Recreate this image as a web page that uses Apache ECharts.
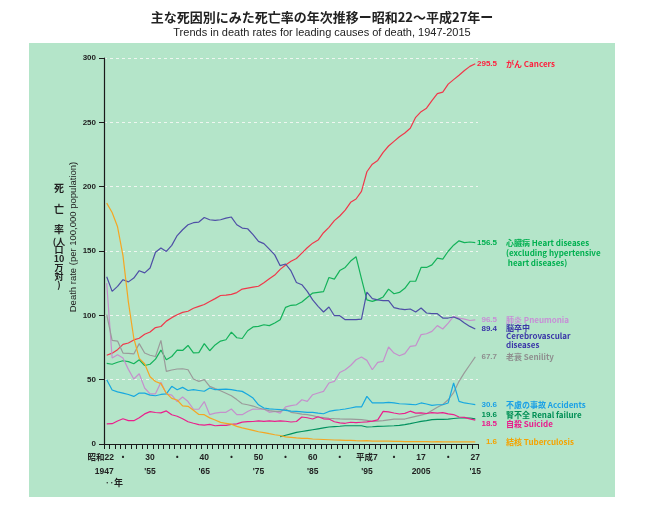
<!DOCTYPE html>
<html>
<head>
<meta charset="utf-8">
<script src="https://cdn.jsdelivr.net/npm/echarts@6/dist/echarts.min.js"></script>
<style>
html,body{margin:0;padding:0;background:#fff;}
#c{width:648px;height:507px;}
</style>
</head>
<body>
<div id="c"></div>
<script>
// ---- data ----
var years = [];
for (var y = 1947; y <= 2015; y++) years.push(String(y));

var cancer = [69.0,70.6,73.3,77.4,78.5,80.9,82.2,85.3,87.1,90.5,
  91.3,95.5,98.2,100.4,102.3,103.2,105.5,107.0,108.4,110.8,
  113.0,115.4,115.7,116.3,117.7,120.4,121.2,121.9,122.6,125.3,
  128.4,131.3,135.7,139.1,142.0,144.2,148.3,152.5,156.1,158.5,
  164.2,168.4,173.6,177.2,181.7,187.8,190.4,196.4,211.6,217.5,
  220.4,226.7,231.6,235.2,238.8,241.7,245.4,253.9,258.3,261.0,
  266.9,272.3,273.5,279.7,283.2,286.6,290.3,293.5,295.5];

var heart = [62.6,62.0,63.5,64.7,64.0,62.4,65.5,61.0,62.0,66.0,
  73.0,65.5,68.0,73.0,72.7,76.6,70.9,71.0,78.0,72.5,
  77.0,80.0,81.0,87.0,82.6,82.0,88.0,91.0,91.4,92.7,
  92.0,94.0,96.6,106.2,107.8,108.2,110.4,113.9,117.3,117.9,
  118.4,129.4,128.1,134.8,137.2,142.2,145.6,128.6,112.0,110.8,
  112.2,114.3,120.4,116.8,117.8,121.0,126.5,126.5,137.2,137.2,
  139.2,144.4,143.7,149.8,154.5,157.9,156.5,157.0,156.5];

var pneumonia = [125.0,66.8,69.4,66.8,58.0,50.5,54.6,43.5,39.0,39.0,
  47.9,39.0,38.0,33.0,36.5,33.0,27.0,27.0,33.0,22.8,
  24.0,24.6,24.6,27.2,22.8,22.8,25.3,27.2,27.0,27.2,
  24.6,25.3,24.0,28.8,29.8,30.5,34.4,33.1,38.3,39.6,
  40.9,47.4,48.7,55.6,57.7,61.0,65.5,67.6,65.0,57.7,
  63.4,64.2,75.4,70.7,68.6,70.2,75.9,76.4,85.0,85.7,
  87.5,92.0,89.4,94.0,99.2,97.9,97.0,96.0,96.5];

var cerebro = [130.0,118.6,122.5,127.7,126.0,129.0,134.7,133.0,136.8,149.0,
  152.3,149.7,154.4,162.0,166.5,170.4,172.0,172.5,176.0,174.3,
  173.8,174.3,175.5,176.4,170.4,167.8,167.3,162.7,157.5,155.7,
  151.5,147.0,138.6,139.9,134.5,125.5,123.8,118.6,112.0,107.0,
  102.6,106.5,99.7,99.7,96.6,96.6,96.6,97.0,118.0,113.0,
  112.0,111.4,111.4,106.0,105.0,104.4,104.9,102.6,105.7,101.8,
  101.3,101.3,97.9,97.9,98.7,97.1,94.0,91.4,89.4];

var senility = [100.5,80.5,80.0,70.7,70.5,70.0,78.0,70.7,69.0,68.0,
  80.5,56.4,57.5,58.3,58.5,57.7,50.5,48.7,50.0,44.8,
  43.0,41.4,39.5,37.5,34.5,31.3,30.5,29.5,28.0,27.0,
  26.0,25.3,25.3,27.2,24.6,24.0,23.2,22.8,22.0,21.0,
  20.5,20.0,19.7,19.5,19.4,19.3,19.1,18.9,18.3,17.6,
  17.8,18.1,18.8,19.4,19.4,19.4,20.5,21.5,22.5,23.5,
  26.1,28.6,30.7,34.4,40.0,48.7,55.5,61.6,67.7];

var accidents = [50.0,42.0,40.5,39.6,38.5,37.0,39.6,39.5,38.0,37.5,
  38.5,39.0,44.8,42.2,44.0,41.6,42.2,41.6,41.0,43.5,
  42.2,42.5,42.7,42.2,41.5,40.9,38.5,35.7,30.5,28.0,
  27.3,27.0,26.7,26.1,25.5,25.3,25.0,24.6,24.6,24.0,
  23.5,25.3,26.1,26.6,27.2,28.0,28.8,28.8,37.0,31.9,
  31.9,32.0,32.3,31.9,31.3,31.1,30.8,30.5,31.9,31.1,
  30.0,30.5,30.5,31.9,47.4,33.1,31.9,31.3,30.6];

var renal = [null,null,null,null,null,null,null,null,null,null,
  null,null,null,null,null,null,null,null,null,null,
  null,null,null,null,null,null,null,null,null,null,
  null,null,5.6,6.8,7.9,9.0,9.7,10.4,11.1,11.8,
  12.5,13.2,13.5,13.8,14.2,14.2,14.2,14.2,13.2,13.4,
  13.7,13.8,14.0,14.2,14.5,15.0,15.8,16.7,17.6,18.2,
  18.9,19.1,19.2,19.4,19.8,20.2,20.2,20.2,19.6];

var suicide = [15.7,15.8,17.9,19.6,18.2,18.1,20.4,23.4,25.2,24.5,
  24.2,25.7,22.7,21.6,19.6,17.3,16.1,15.1,14.7,15.2,
  14.2,14.5,14.5,15.3,15.6,17.0,17.4,17.5,18.0,17.6,
  17.9,17.6,18.0,17.7,17.1,17.5,21.0,20.4,19.4,21.2,
  19.6,19.4,17.3,16.4,16.1,16.9,16.6,16.9,17.2,17.8,
  18.8,25.4,25.0,24.1,23.3,23.8,25.5,24.0,24.2,23.7,
  24.4,24.0,24.4,23.4,22.9,21.0,20.7,19.5,18.5];

var tuberculosis = [187.2,179.9,168.8,146.4,110.3,82.2,66.5,62.4,52.3,48.6,
  46.9,39.5,35.5,34.2,29.6,29.3,26.3,23.0,22.8,20.3,
  18.6,16.8,16.1,15.4,13.7,12.5,11.6,10.6,9.5,8.9,
  8.0,7.2,6.6,5.5,5.2,4.7,4.4,4.3,3.9,3.7,
  3.5,3.3,3.1,3.0,2.8,2.8,2.6,2.5,2.6,2.3,
  2.2,2.2,2.3,2.1,2.0,1.8,1.9,1.8,1.8,1.8,
  1.7,1.8,1.7,1.7,1.7,1.7,1.6,1.7,1.6];

// tick labels
var labelYears = ['1947','1955','1965','1975','1985','1995','2005','2015'];
var eraLabels  = ['昭和22','30','40','50','60','平成7','17','27'];
var adLabels   = ['1947',"'55","'65","'75","'85","'95",'2005',"'15"];
var dotYears   = ['1950','1960','1970','1980','1990','2000','2010'];
var yTicks = [0, 50, 100, 150, 200, 250, 300];

// ---- chart ----
var FONT = '"Liberation Sans", Arial, "Noto Sans CJK JP", sans-serif';
var JFONT = '"Noto Sans CJK JP", "Liberation Sans", sans-serif';

var seriesDefs = [
  {name:'がん Cancers', data:cancer, color:'#f0384a', label:'#ff1f3d', ly:63.5, text:'がん Cancers'},
  {name:'心臓病', data:heart, color:'#14b25a', label:'#00b050', ly:242.5, text:'心臓病 Heart diseases\n(excluding hypertensive\n heart diseases)'},
  {name:'肺炎', data:pneumonia, color:'#c590cc', label:'#c78fd6', ly:319.5, text:'肺炎 Pneumonia'},
  {name:'脳卒中', data:cerebro, color:'#4e4fa6', label:'#3b36a8', ly:328.5, text:'脳卒中\nCerebrovascular\ndiseases'},
  {name:'老衰', data:senility, color:'#9a9a9a', label:'#8e8e8e', ly:356.5, text:'老衰 Senility'},
  {name:'不慮の事故', data:accidents, color:'#17a8df', label:'#1aa0e6', ly:404.5, text:'不慮の事故 Accidents'},
  {name:'腎不全', data:renal, color:'#00915e', label:'#008f55', ly:415, text:'腎不全 Renal failure'},
  {name:'自殺', data:suicide, color:'#ea1f8c', label:'#ea1a8c', ly:423.5, text:'自殺 Suicide'},
  {name:'結核', data:tuberculosis, color:'#f5a623', label:'#f5a300', ly:441.5, text:'結核 Tuberculosis'}
];

var graphics = [
  {type:'rect', z:-10, shape:{x:29, y:43, width:586, height:454}, style:{fill:'#b4e5c9'}},
  {type:'text', x:322, y:17, style:{text:'主な死因別にみた死亡率の年次推移ー昭和22～平成27年ー', font:'bold 13px ' + JFONT, fill:'#222', align:'center', verticalAlign:'middle', textAlign:'center', textVerticalAlign:'middle'}},
  {type:'text', x:322, y:33, style:{text:'Trends in death rates for leading causes of death, 1947-2015', font:'11px ' + FONT, fill:'#222', align:'center', verticalAlign:'middle', textAlign:'center', textVerticalAlign:'middle'}},
  {type:'text', x:59, y:178, style:{text:'死\n亡\n率', font:'bold 10px ' + JFONT, lineHeight:20.5, fill:'#222', align:'center', verticalAlign:'top', textAlign:'center', textVerticalAlign:'top'}},
  {type:'text', x:59, y:237, style:{text:'(人\n口\n10\n万\n対\n)', font:'bold 9px ' + JFONT, lineHeight:8.7, fill:'#222', align:'center', verticalAlign:'top', textAlign:'center', textVerticalAlign:'top'}},
  {type:'text', x:73, y:237, rotation:Math.PI/2, style:{text:'Death rate (per 100,000 population)', font:'9.5px ' + FONT, fill:'#222', align:'center', verticalAlign:'middle', textAlign:'center', textVerticalAlign:'middle'}},
  {type:'text', x:114, y:483, style:{text:'‥年', font:'bold 9px ' + JFONT, fill:'#222', align:'center', verticalAlign:'middle', textAlign:'center', textVerticalAlign:'middle'}}
];

seriesDefs.forEach(function(s){
  var last = s.data[s.data.length - 1];
  graphics.push({type:'text', x:497, y:s.ly, style:{text:last.toFixed(1), font:'bold 8px ' + FONT, fill:s.label, align:'right', verticalAlign:'middle', textAlign:'right', textVerticalAlign:'middle'}});
  var multi = s.text.indexOf('\n') >= 0;
  graphics.push({type:'text', x:506, y: multi ? s.ly - 5 : s.ly, style:{text:s.text, font:'bold 8px ' + JFONT, lineHeight: (s.name === '脳卒中' ? 8.5 : 10), fill:s.label, align:'left', verticalAlign: multi ? 'top' : 'middle', textAlign:'left', textVerticalAlign: multi ? 'top' : 'middle'}});
});

var chart = echarts.init(document.getElementById('c'), null, {renderer:'canvas'});
chart.setOption({
  animation:false,
  backgroundColor:'#ffffff',
  grid:{left:104, right:170, top:58, bottom:63, containLabel:false},
  xAxis:{
    type:'category', data:years, boundaryGap:true,
    axisLine:{lineStyle:{color:'#1a1a1a', width:1.2}},
    axisTick:{show:true, interval:0, length:5, lineStyle:{color:'#1a1a1a', width:1}},
    axisLabel:{
      interval:0, margin:7,
      formatter:function(v){
        var i = labelYears.indexOf(v);
        if (i === 0) return '{a0|' + eraLabels[i] + '}\n{b0|' + adLabels[i] + '}';
        if (i > 0) return '{a|' + eraLabels[i] + '}\n{b|' + adLabels[i] + '}';
        if (dotYears.indexOf(v) >= 0) return '{a|・}\n{b| }';
        return '';
      },
      rich:{
        a:{fontSize:8.5, fontWeight:'bold', color:'#222', lineHeight:14, fontFamily:FONT},
        b:{fontSize:8.5, fontWeight:'bold', color:'#222', lineHeight:14, fontFamily:FONT},
        a0:{fontSize:8.5, fontWeight:'bold', color:'#222', lineHeight:14, fontFamily:FONT, padding:[0,12,0,0]},
        b0:{fontSize:8.5, fontWeight:'bold', color:'#222', lineHeight:14, fontFamily:FONT, padding:[0,5,0,0]}
      }
    },
    splitLine:{show:false}
  },
  yAxis:{
    type:'value', min:0, max:300, interval:50,
    axisLine:{show:true, lineStyle:{color:'#1a1a1a', width:1.2}},
    axisTick:{show:true, length:5, lineStyle:{color:'#1a1a1a', width:1}},
    axisLabel:{fontSize:8, fontWeight:'bold', color:'#222', margin:8, fontFamily:FONT,
      formatter:function(v){ return yTicks.indexOf(v) >= 0 ? String(v) : ''; }},
    splitLine:{show:true, lineStyle:{color:'#eef6f0', type:[3,3], width:1}}
  },
  graphic:graphics,
  series: seriesDefs.map(function(s){
    return {
      type:'line', name:s.name, data:s.data, symbol:'none', smooth:false,
      connectNulls:false,
      lineStyle:{color:s.color, width:1.2},
      itemStyle:{color:s.color}
    };
  })
});
</script>
</body>
</html>
